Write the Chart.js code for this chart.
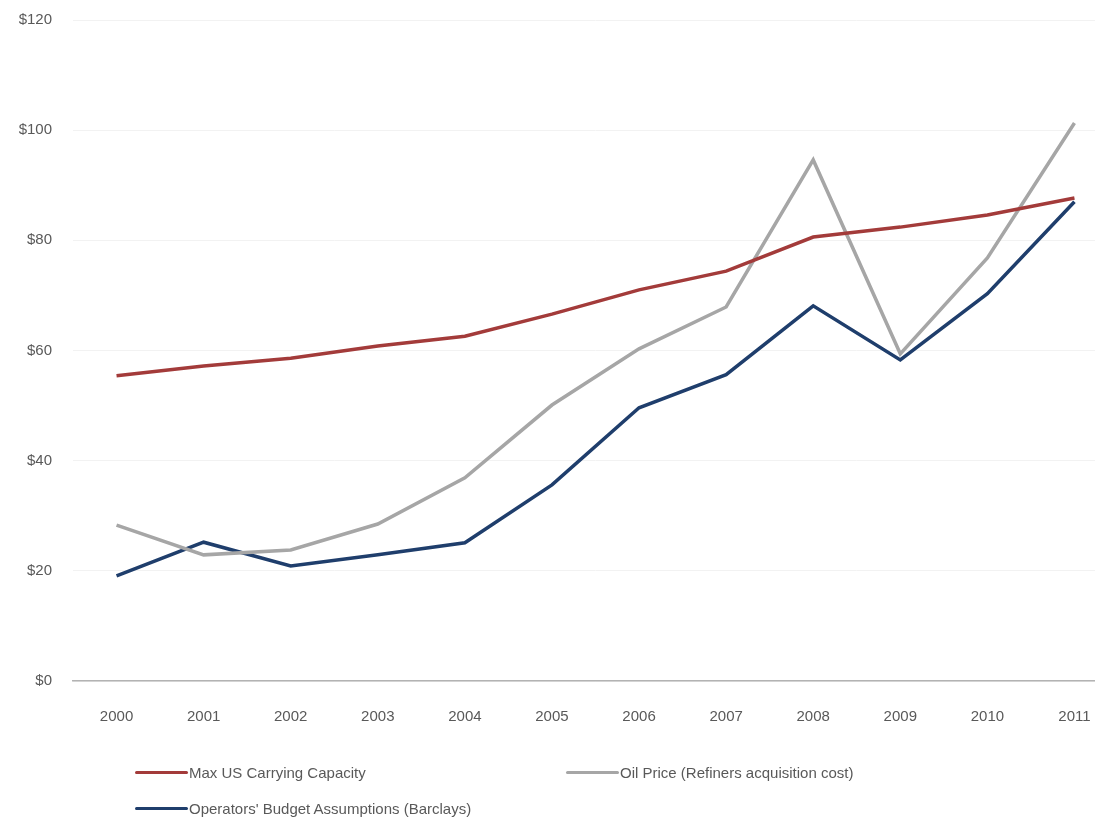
<!DOCTYPE html>
<html>
<head>
<meta charset="utf-8">
<script src="https://cdn.jsdelivr.net/npm/chart.js@4/dist/chart.umd.min.js"></script>
<style>
  html, body { margin: 0; padding: 0; background: #fff; overflow: hidden; }
  #wrap { position: relative; width: 1095px; height: 819px; overflow: hidden; }
  #chart { position: absolute; left: 0; top: -10px; }
  .leg { position: absolute; display: flex; align-items: center; font: 15px "Liberation Sans", Arial, sans-serif; color: #595959; white-space: nowrap; }
  .leg span.ln { display: inline-block; width: 53px; height: 3px; border-radius: 2px; margin-right: 1px; }
</style>
</head>
<body>
<div id="wrap">
  <canvas id="chart" width="1118" height="829"></canvas>
  <div id="legend"></div>
</div>
<script>
const years = ["2000", "2001", "2002", "2003", "2004", "2005", "2006", "2007", "2008", "2009", "2010", "2011"];
const maxCapacity = [55.4, 57.2, 58.6, 60.8, 62.6, 66.6, 71.0, 74.4, 80.6, 82.4, 84.6, 87.7];
const oilPrice = [28.3, 22.9, 23.8, 28.5, 36.9, 50.1, 60.3, 67.9, 94.6, 59.4, 76.8, 101.3];
const budgetAssumptions = [19.1, 25.2, 20.9, 22.9, 25.1, 35.6, 49.6, 55.6, 68.1, 58.3, 70.3, 87.0];
const yTicks = [0, 20, 40, 60, 80, 100, 120];

const series = [
  { label: "Max US Carrying Capacity", data: maxCapacity, color: "#a33b3a", legend: [135, 774] },
  { label: "Oil Price (Refiners acquisition cost)", data: oilPrice, color: "#a6a6a6", legend: [566, 774] },
  { label: "Operators' Budget Assumptions (Barclays)", data: budgetAssumptions, color: "#1f3e6c", legend: [135, 810] }
];

const FONT = { family: "'Liberation Sans', Arial, sans-serif", size: 15 };

new Chart(document.getElementById("chart"), {
  type: "line",
  data: {
    labels: years,
    datasets: series.map(s => ({
      label: s.label,
      data: s.data,
      borderColor: s.color,
      backgroundColor: s.color,
      borderWidth: 3.5,
      pointRadius: 0,
      tension: 0,
      fill: false
    }))
  },
  options: {
    responsive: false,
    animation: false,
    layout: { padding: { top: 10, left: 0, right: 0, bottom: 0 } },
    plugins: { legend: { display: false }, tooltip: { enabled: false } },
    scales: {
      x: {
        offset: true,
        grid: { display: false, drawTicks: false },
        border: { display: true, color: "#b3b3b3", width: 1.5 },
        ticks: { color: "#595959", font: FONT, padding: 27, maxRotation: 0, autoSkip: false },
        afterFit: scale => { scale.height = 138; }
      },
      y: {
        min: 0,
        max: 120,
        afterBuildTicks: scale => { scale.ticks = yTicks.map(v => ({ value: v })); },
        grid: { color: "#f2f2f2", lineWidth: 1, drawTicks: false },
        border: { display: false },
        ticks: { color: "#595959", font: FONT, padding: 21, callback: v => "$" + v },
        afterFit: scale => { scale.width = 73; }
      }
    }
  }
});

// legend laid out like the original: two items on the first row, one below
const legend = document.getElementById("legend");
series.forEach(s => {
  const el = document.createElement("div");
  el.className = "leg";
  el.style.left = s.legend[0] + "px";
  el.style.top = (s.legend[1] - 10) + "px";
  el.innerHTML = '<span class="ln" style="background:' + s.color + '"></span>' + s.label;
  legend.appendChild(el);
});
</script>
</body>
</html>
